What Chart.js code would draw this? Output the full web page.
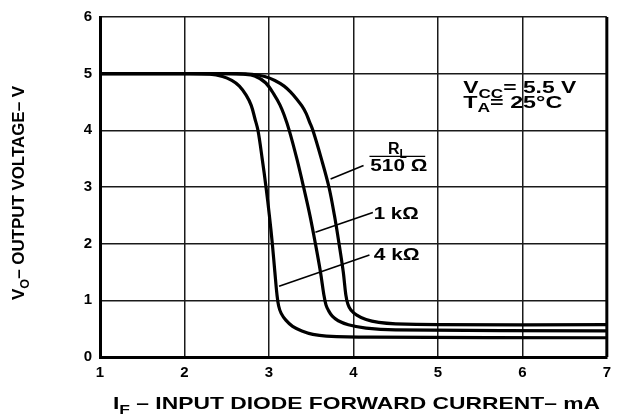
<!DOCTYPE html>
<html>
<head>
<meta charset="utf-8">
<script src="https://cdn.jsdelivr.net/npm/chart.js@4"></script>
<style>
    body { margin: 0; background: #fff; }
    #wrap { width: 618px; height: 416px; }
</style>
</head>
<body>
<div id="wrap"><canvas id="graph" width="618" height="416"></canvas></div>
<script>
// Curves: [I_F in mA, V_O in V]
const curve4k = [
    [1, 5.0], [2, 5.0], [2.3, 4.99], [2.45, 4.95], [2.56, 4.88], [2.65, 4.78], [2.73, 4.62],
    [2.79, 4.44], [2.835, 4.2], [2.87, 4.0], [2.92, 3.5], [2.965, 3.0], [3.005, 2.5], [3.04, 2.0],
    [3.07, 1.5], [3.095, 1.1], [3.115, 0.9], [3.145, 0.77], [3.2, 0.65], [3.28, 0.54], [3.39, 0.46],
    [3.52, 0.4], [3.68, 0.37], [4.2, 0.35], [7, 0.34]
];
const curve1k = [
    [1, 5.0], [2.5, 5.0], [2.7, 4.99], [2.83, 4.96], [2.96, 4.84], [3.07, 4.61], [3.13, 4.45],
    [3.18, 4.27], [3.24, 4.0], [3.33, 3.5], [3.41, 3.0], [3.485, 2.5], [3.55, 2.0], [3.61, 1.5],
    [3.65, 1.1], [3.675, 0.92], [3.705, 0.82], [3.75, 0.72], [3.82, 0.64], [3.94, 0.57], [4.15, 0.51],
    [4.5, 0.48], [7, 0.46]
];
const curve510 = [
    [1, 5.0], [2.6, 5.0], [2.8, 4.99], [2.95, 4.95], [3.07, 4.88], [3.18, 4.78], [3.26, 4.67],
    [3.33, 4.55], [3.39, 4.43], [3.44, 4.3], [3.48, 4.15], [3.52, 4.0], [3.62, 3.5], [3.71, 3.0],
    [3.775, 2.5], [3.83, 2.0], [3.88, 1.5], [3.91, 1.1], [3.935, 0.93], [3.97, 0.83], [4.04, 0.74],
    [4.15, 0.66], [4.3, 0.61], [4.5, 0.585], [5, 0.57], [7, 0.57]
];

const xTicks = [1, 2, 3, 4, 5, 6, 7];
const yTicks = [0, 1, 2, 3, 4, 5, 6];

// Leader lines from labels to curves, in data units
const leaders = [
    [[4.12, 3.38], [3.73, 3.14]],
    [[4.23, 2.55], [3.55, 2.2]],
    [[4.19, 1.80], [3.12, 1.25]]
];

const FONT = '"Liberation Sans", Arial, sans-serif';

function toPoints(arr) {
    return arr.map(p => ({ x: p[0], y: p[1] }));
}

// draw a run of [text, isSub] pieces starting at x
function drawRich(ctx, parts, x, y, size) {
    parts.forEach(part => {
        const sub = part[1];
        ctx.font = 'bold ' + (sub ? Math.round(size * 0.75) : size) + 'px ' + FONT;
        ctx.fillText(part[0], x, y + (sub ? size * 0.3 : 0));
        x += ctx.measureText(part[0]).width;
    });
    return x;
}

function richWidth(ctx, parts, size) {
    let w = 0;
    parts.forEach(part => {
        ctx.font = 'bold ' + (part[1] ? Math.round(size * 0.75) : size) + 'px ' + FONT;
        w += ctx.measureText(part[0]).width;
    });
    return w;
}

// draw rich text squeezed/stretched to a given width
function drawFitted(ctx, parts, x, y, size, width) {
    const w = richWidth(ctx, parts, size);
    ctx.save();
    ctx.translate(x, y);
    ctx.scale(width / w, 1);
    drawRich(ctx, parts, 0, 0, size);
    ctx.restore();
}

const textPlugin = {
    id: 'texts',
    afterDraw(chart) {
        const ctx = chart.ctx;
        const xs = chart.scales.x;
        const ys = chart.scales.y;
        const area = chart.chartArea;
        const px = v => xs.getPixelForValue(v);
        const py = v => ys.getPixelForValue(v);

        ctx.save();
        ctx.fillStyle = '#000';
        ctx.strokeStyle = '#000';

        // right frame
        ctx.lineWidth = 3;
        ctx.beginPath();
        ctx.moveTo(area.right, area.top);
        ctx.lineTo(area.right, area.bottom);
        ctx.stroke();

        // leader lines
        ctx.lineWidth = 1.6;
        leaders.forEach(l => {
            ctx.beginPath();
            ctx.moveTo(px(l[0][0]), py(l[0][1]));
            ctx.lineTo(px(l[1][0]), py(l[1][1]));
            ctx.stroke();
        });

        ctx.textBaseline = 'alphabetic';
        ctx.textAlign = 'left';

        // R_L / 510 ohm
        const rlW = richWidth(ctx, [['R', false], ['L', true]], 16);
        drawRich(ctx, [['R', false], ['L', true]], px(4.52) - rlW / 2, py(3.59), 16);
        ctx.lineWidth = 1.4;
        ctx.beginPath();
        ctx.moveTo(px(4.19), py(3.54));
        ctx.lineTo(px(4.85), py(3.54));
        ctx.stroke();
        drawFitted(ctx, [['510 \u03A9', false]], px(4.2), py(3.28), 16, 57);

        drawFitted(ctx, [['1 k\u03A9', false]], px(4.24), py(2.43), 16, 45);
        drawFitted(ctx, [['4 k\u03A9', false]], px(4.24), py(1.72), 16, 46);

        // conditions
        drawFitted(ctx, [['V', false], ['CC', true], ['= 5.5 V', false]], px(5.3), py(4.66), 16, 113);
        drawFitted(ctx, [['T', false], ['A', true], ['= 25\u00B0C', false]], px(5.3), py(4.40), 16, 99);

        // x axis title
        drawFitted(ctx, [['I', false], ['F', true], [' \u2013 INPUT DIODE FORWARD CURRENT\u2013 mA', false]],
            113, 409, 17, 487);

        // y axis title, rotated
        ctx.save();
        ctx.translate(24, 300);
        ctx.rotate(-Math.PI / 2);
        drawFitted(ctx, [['V', false], ['O', true], ['\u2013 OUTPUT VOLTAGE\u2013 V', false]], 0, 0, 16, 214);
        ctx.restore();

        ctx.restore();
    }
};

const lineStyle = {
    showLine: true,
    borderColor: '#000',
    borderWidth: 3.2,
    pointRadius: 0,
    fill: false,
    tension: 0.35
};

const ctx = document.getElementById('graph').getContext('2d');
new Chart(ctx, {
    type: 'scatter',
    data: {
        datasets: [
            { label: '4 kOhm', data: toPoints(curve4k), ...lineStyle },
            { label: '1 kOhm', data: toPoints(curve1k), ...lineStyle },
            { label: '510 Ohm', data: toPoints(curve510), ...lineStyle }
        ]
    },
    options: {
        responsive: false,
        animation: false,
        layout: { padding: { top: 11, right: 4, left: 0, bottom: 0 } },
        plugins: {
            legend: { display: false },
            tooltip: { enabled: false }
        },
        scales: {
            x: {
                type: 'linear',
                min: 1,
                max: 7,
                afterFit: scale => { scale.height = 59; },
                afterBuildTicks: scale => { scale.ticks = xTicks.map(v => ({ value: v })); },
                grid: { color: '#1a1a1a', lineWidth: 1.5, drawTicks: false },
                border: { color: '#000', width: 3 },
                ticks: {
                    color: '#000',
                    padding: 7,
                    font: { family: FONT, size: 15, weight: 'bold' }
                }
            },
            y: {
                min: 0,
                max: 6,
                afterFit: scale => { scale.width = 100; },
                afterBuildTicks: scale => { scale.ticks = yTicks.map(v => ({ value: v })); },
                grid: { color: '#1a1a1a', lineWidth: 1.5, drawTicks: false },
                border: { color: '#000', width: 3 },
                ticks: {
                    color: '#000',
                    padding: 8,
                    font: { family: FONT, size: 15, weight: 'bold' }
                }
            }
        }
    },
    plugins: [textPlugin]
});
</script>
</body>
</html>
